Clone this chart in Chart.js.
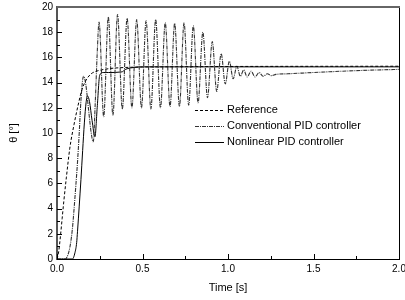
<!DOCTYPE html>
<html>
<head>
<meta charset="utf-8">
<script src="https://cdn.jsdelivr.net/npm/chart.js@4.4.1/dist/chart.umd.min.js"></script>
<style>
  html, body { margin: 0; padding: 0; background: #fff; }
</style>
</head>
<body>
<canvas id="grafico" width="405" height="300"></canvas>
<script>
// Reference
const refTime  = [0, 0.01, 0.02, 0.03, 0.04, 0.055, 0.075, 0.1, 0.125, 0.145, 0.17, 0.2, 0.23, 0.3, 0.4, 0.6, 2.0];
const refValue = [0, 0.6, 1.8, 3.2, 4.6, 6.5, 8.8, 10.7, 12.3, 13.4, 14.2, 14.7, 14.9, 15.1, 15.2, 15.25, 15.3];

// Conventional PID controller
const convTime = [0, 0.05, 0.06, 0.07, 0.08, 0.09, 0.10, 0.11, 0.12, 0.13, 0.14, 0.155, 0.168, 0.185, 0.2, 0.212, 0.224, 0.235, 0.246,
  0.273, 0.300, 0.327, 0.354, 0.382, 0.410, 0.438, 0.466, 0.494, 0.521, 0.549, 0.577, 0.605, 0.633, 0.661, 0.688,
  0.716, 0.743, 0.770, 0.797, 0.825, 0.853, 0.880, 0.908, 0.934, 0.960, 0.984, 1.008, 1.030, 1.052, 1.072,
  1.092, 1.112, 1.135, 1.158, 1.182, 1.205, 1.23, 1.255, 1.28, 1.35, 1.5, 1.75, 2.0];
const convValue = [0, 0, 0.2, 0.6, 1.3, 2.4, 4.0, 5.8, 7.7, 10.0, 12.6, 14.5, 13.9, 11.8, 10.0, 9.3, 12.5, 16.3, 18.8,
  11.3, 19.2, 11.4, 19.4, 11.9, 19.1, 12.0, 19.0, 12.0, 18.9, 11.9, 19.0, 12.0, 18.75, 12.1, 18.7,
  12.1, 18.75, 12.2, 18.5, 12.4, 18.0, 12.8, 17.25, 13.3, 16.3, 13.9, 15.7, 14.3, 15.3, 14.5,
  15.0, 14.45, 14.9, 14.45, 14.8, 14.5, 14.7, 14.55, 14.65, 14.7, 14.8, 14.95, 15.05];

// Nonlinear PID controller
const nlTime  = [0, 0.09, 0.105, 0.115, 0.12, 0.13, 0.14, 0.15, 0.16, 0.17, 0.178, 0.19, 0.205, 0.222, 0.235, 0.25, 0.27, 0.3, 0.38, 0.395, 0.41, 0.45, 0.5, 2.0];
const nlValue = [0, 0, 0.5, 1.3, 2.2, 4.2, 6.3, 8.6, 10.8, 12.4, 12.95, 12.5, 11.0, 9.7, 12.0, 14.6, 14.8, 14.8, 14.85, 15.0, 15.1, 15.2, 15.25, 15.25];

const fuente = '"Liberation Sans", Arial, sans-serif';

function puntos(ts, vs) {
  return ts.map((t, i) => ({ x: t, y: vs[i] }));
}

// leyenda dentro del area del grafico
const leyendaInterna = {
  id: 'leyendaInterna',
  afterDraw(chart) {
    const ctx = chart.ctx;
    const area = chart.chartArea;
    const x0 = area.left + 138;
    let y = area.top + 103;
    ctx.save();
    ctx.font = '11px ' + fuente;
    ctx.textBaseline = 'middle';
    chart.data.datasets.forEach(ds => {
      ctx.beginPath();
      ctx.strokeStyle = ds.borderColor;
      ctx.lineWidth = ds.borderWidth;
      ctx.setLineDash(ds.borderDash || []);
      ctx.moveTo(x0, y + 0.5);
      ctx.lineTo(x0 + 29, y + 0.5);
      ctx.stroke();
      ctx.setLineDash([]);
      ctx.fillStyle = '#000';
      ctx.fillText(ds.label, x0 + 32, y);
      y += 16;
    });
    ctx.restore();
  }
};

// marcas hacia adentro y marco superior/derecho
const marcasInternas = {
  id: 'marcasInternas',
  afterDatasetsDraw(chart) {
    const { ctx, chartArea: a, scales: { x, y } } = chart;
    ctx.save();
    ctx.strokeStyle = '#000';
    ctx.lineWidth = 1;
    ctx.beginPath();
    x.ticks.forEach((t, i) => {
      const px = Math.round(x.getPixelForValue(t.value)) + 0.5;
      ctx.moveTo(px, a.bottom);
      ctx.lineTo(px, a.bottom - 5);
      if (i < x.ticks.length - 1) {
        const mx = Math.round(x.getPixelForValue((t.value + x.ticks[i + 1].value) / 2)) + 0.5;
        ctx.moveTo(mx, a.bottom);
        ctx.lineTo(mx, a.bottom - 3);
      }
    });
    y.ticks.forEach((t, i) => {
      const py = Math.round(y.getPixelForValue(t.value)) + 0.5;
      ctx.moveTo(a.left, py);
      ctx.lineTo(a.left + 5, py);
      if (i < y.ticks.length - 1) {
        const my = Math.round(y.getPixelForValue((t.value + y.ticks[i + 1].value) / 2)) + 0.5;
        ctx.moveTo(a.left, my);
        ctx.lineTo(a.left + 3, my);
      }
    });
    ctx.stroke();

    ctx.beginPath();
    ctx.moveTo(a.right + 0.5, a.bottom);
    ctx.lineTo(a.right + 0.5, a.top);
    ctx.stroke();
    ctx.beginPath();
    ctx.strokeStyle = '#666';
    ctx.lineWidth = 2;
    ctx.moveTo(a.left, a.top);
    ctx.lineTo(a.right + 1, a.top);
    ctx.stroke();
    ctx.restore();
  }
};

const ctx = document.getElementById('grafico').getContext('2d');
const grafico = new Chart(ctx, {
  type: 'line',
  data: {
    datasets: [{
      label: 'Reference',
      data: puntos(refTime, refValue),
      borderColor: '#000',
      borderWidth: 1,
      borderDash: [3, 2],
      pointRadius: 0,
      cubicInterpolationMode: 'monotone'
    }, {
      label: 'Conventional PID controller',
      data: puntos(convTime, convValue),
      borderColor: '#333',
      borderWidth: 1.1,
      borderDash: [4, 1, 1, 1],
      pointRadius: 0,
      cubicInterpolationMode: 'monotone'
    }, {
      label: 'Nonlinear PID controller',
      data: puntos(nlTime, nlValue),
      borderColor: '#000',
      borderWidth: 1,
      pointRadius: 0,
      cubicInterpolationMode: 'monotone'
    }]
  },
  options: {
    responsive: false,
    animation: false,
    layout: { padding: { top: 7, right: 6, left: 0, bottom: 0 } },
    plugins: {
      legend: { display: false },
      tooltip: { enabled: false }
    },
    scales: {
      x: {
        type: 'linear',
        min: 0,
        max: 2,
        grid: { drawOnChartArea: false, drawTicks: false },
        border: { display: true, color: '#000', width: 1 },
        ticks: {
          stepSize: 0.5,
          padding: 4,
          color: '#000',
          font: { family: fuente, size: 10 },
          maxRotation: 0,
          callback: v => v.toFixed(1)
        },
        title: {
          display: true,
          text: 'Time [s]',
          color: '#000',
          font: { family: fuente, size: 11 },
          padding: { top: 4, bottom: 5 }
        },
        afterFit(scale) {
          scale.height = 41;
          scale.paddingLeft = 0;
          scale.paddingRight = 0;
        }
      },
      y: {
        min: 0,
        max: 20,
        grid: { drawOnChartArea: false, drawTicks: false },
        border: { display: true, color: '#555', width: 2 },
        ticks: {
          stepSize: 2,
          padding: 4,
          color: '#000',
          font: { family: fuente, size: 10 }
        },
        title: {
          display: true,
          text: 'θ [°]',
          color: '#000',
          font: { family: fuente, size: 11 },
          padding: { top: 7, bottom: 0 }
        },
        afterFit(scale) {
          scale.width = 57;
          scale.paddingTop = 0;
          scale.paddingBottom = 0;
        }
      }
    }
  },
  plugins: [marcasInternas, leyendaInterna]
});
</script>
</body>
</html>
